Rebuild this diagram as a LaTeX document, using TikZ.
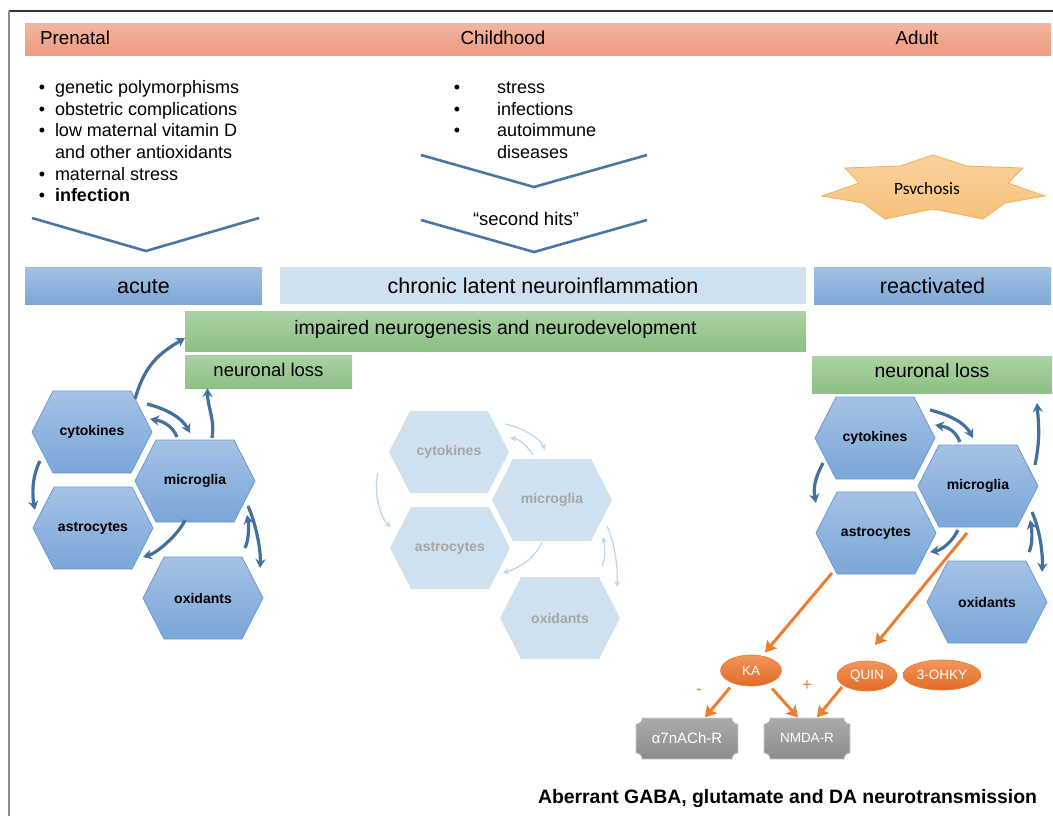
\documentclass[tikz,border=0pt]{standalone}
\usepackage{fontspec}
\setmainfont{Liberation Sans}
\newfontfamily\carlito{Carlito}
\usetikzlibrary{arrows.meta,shapes.geometric,calc}
\definecolor{salT}{HTML}{F2B49E}
\definecolor{salB}{HTML}{EE9A80}
\definecolor{phT}{HTML}{A3C2E4}
\definecolor{phB}{HTML}{7DA7D6}
\definecolor{pale}{HTML}{CFE1EF}
\definecolor{grT}{HTML}{ABD2A3}
\definecolor{grB}{HTML}{8CC084}
\definecolor{hexT}{HTML}{A5C2E5}
\definecolor{hexB}{HTML}{7AA6D8}
\definecolor{hexD}{HTML}{6B9BD2}
\definecolor{arrblue}{HTML}{41719C}
\definecolor{chev}{HTML}{4A76A6}
\definecolor{paletext}{HTML}{A6A6A6}
\definecolor{palearr}{HTML}{BDD7EE}
\definecolor{orng}{HTML}{ED7D31}
\definecolor{ornT}{HTML}{F2955A}
\definecolor{ornB}{HTML}{E26B27}
\definecolor{recT}{HTML}{ABABAB}
\definecolor{recB}{HTML}{8C8C8C}
\definecolor{starT}{HTML}{F9D29C}
\definecolor{starB}{HTML}{F6C27C}
\definecolor{starD}{HTML}{F3B050}
\newcommand{\myfs}[1]{\fontsize{#1}{#1}\selectfont}
\newcommand{\hexa}[6]{%
  \path[#5] ({#2-60},{#3}) -- ({#2-39},{#3-41}) -- ({#2+39},{#3-41}) -- ({#2+60},{#3}) -- ({#2+39},{#3+41}) -- ({#2-39},{#3+41}) -- cycle;
  \node[#6] (#1) at (#2,#3) {#4};}
\newcommand{\plaque}[5]{%
  \pgfmathsetmacro{\pqxa}{#2-#4}\pgfmathsetmacro{\pqxb}{#2+#4}%
  \pgfmathsetmacro{\pqya}{#3-20.5}\pgfmathsetmacro{\pqyb}{#3+20.5}%
  \path[recep] ({\pqxa+6},{\pqya}) -- ({\pqxb-6},{\pqya})
    .. controls ({\pqxb-6},{\pqya+3.3}) and ({\pqxb-3.3},{\pqya+6}) .. ({\pqxb},{\pqya+6})
    -- ({\pqxb},{\pqyb-6})
    .. controls ({\pqxb-3.3},{\pqyb-6}) and ({\pqxb-6},{\pqyb-3.3}) .. ({\pqxb-6},{\pqyb})
    -- ({\pqxa+6},{\pqyb})
    .. controls ({\pqxa+6},{\pqyb-3.3}) and ({\pqxa+3.3},{\pqyb-6}) .. ({\pqxa},{\pqyb-6})
    -- ({\pqxa},{\pqya+6})
    .. controls ({\pqxa+3.3},{\pqya+6}) and ({\pqxa+6},{\pqya+3.3}) .. ({\pqxa+6},{\pqya}) -- cycle;
  \node[rectxt, font=\myfs{#5}] (#1) at (#2,#3) {\vphantom{Ag}};}
\begin{document}
\begin{tikzpicture}[x=1pt,y=-1pt,
  every node/.style={inner sep=0pt, outer sep=0pt},
  bar/.style={draw=none, inner sep=0pt, outer sep=0pt},
  btxt/.style={anchor=base west, font=\myfs{18}},
  bul/.style={anchor=base, font=\myfs{18}},
  chevline/.style={draw=chev, line width=2.6pt},
  hexblue/.style={top color=hexT, bottom color=hexB, draw=hexD, line width=0.8pt},
  hexpale/.style={fill=pale},
  hextxt/.style={font=\bfseries\myfs{14}, text=black},
  paletxt/.style={font=\bfseries\myfs{14}, text=paletext},
  barr/.style={draw=arrblue, line width=3.2pt, -{Stealth[length=9pt,width=10pt]}},
  larr/.style={draw=palearr, line width=1.3pt, -{Stealth[length=6pt,width=6pt]}},
  oarr/.style={draw=orng, line width=3pt, -{Stealth[length=11pt,width=13pt,inset=2pt]}},
  ell/.style={ellipse, top color=ornT, bottom color=ornB, draw=orng, line width=0.6pt, text=white, font=\myfs{13.5}},
  recep/.style={top color=recT, bottom color=recB, draw=recT!60!white, line width=0.6pt},
  rectxt/.style={text=white}
]
\useasboundingbox (0,0) rectangle (1053,816);
% frame
\draw[draw=black!80, line width=1.5pt] (9,11) -- (1053,11);
\draw[draw=black!45, line width=2pt] (9,11) -- (9,816);
% top bar
\node[bar, minimum width=1026, minimum height=32, top color=salT, bottom color=salB] (topbar) at (538,40) {};
\node[anchor=base west, font=\myfs{18.8}] (prenatal) at (40,45) {Prenatal};
\node[anchor=base, font=\myfs{18.8}] (childhood) at (503,45) {Childhood};
\node[anchor=base, font=\myfs{18.8}] (adult) at (917,45) {Adult};
% left bullets
\node[bul] (lb1) at (42,93.5) {•};
\node[btxt] (lt1) at (55,93.5) {genetic polymorphisms};
\node[bul] (lb2) at (42,115.2) {•};
\node[btxt] (lt2) at (55,115.2) {obstetric complications};
\node[bul] (lb3) at (42,136.9) {•};
\node[btxt] (lt3) at (55,136.9) {low maternal vitamin D};
\node[btxt] (lt4) at (55,158.5) {and other antioxidants};
\node[bul] (lb5) at (42,180.2) {•};
\node[btxt] (lt5) at (55,180.2) {maternal stress};
\node[bul] (lb6) at (42,201.9) {•};
\node[btxt, font=\bfseries\myfs{18}] (lt6) at (55,201.9) {infection};
% middle bullets
\node[bul] (mb1) at (457,93.5) {•};
\node[btxt] (mt1) at (497,93.5) {stress};
\node[bul] (mb2) at (457,115.2) {•};
\node[btxt] (mt2) at (497,115.2) {infections};
\node[bul] (mb3) at (457,136.9) {•};
\node[btxt] (mt3) at (497,136.9) {autoimmune};
\node[btxt] (mt4) at (497,158.5) {diseases};
% chevrons
\draw[chevline] (32,218) -- (146,251) -- (259,218);
\draw[chevline] (421,155) -- (534,187) -- (647,155);
\draw[chevline] (421,220) -- (534,252) -- (647,220);
\node[anchor=base, font=\myfs{18.5}] (second) at (526,225) {“second hits”};
% psychosis star
\path[top color=starT, bottom color=starB, draw=starD, line width=0.8pt]
  (933,155) -- (967,166) -- (1023,168) -- (1008,183) -- (1045,196) -- (1005,203) -- (983,219) -- (933,209) -- (885,219) -- (863,203) -- (822,196) -- (859,183) -- (845,168) -- (900,166) -- cycle;
\node[font=\carlito\myfs{17.3}] (psy) at (927,189) {Psvchosis};
% phase bars
\node[bar, minimum width=237, minimum height=37, top color=phT, bottom color=phB] (acute) at (143.5,285.5) {};
\node[bar, minimum width=526, minimum height=37, fill=pale] (chronic) at (543,285.5) {};
\node[bar, minimum width=237, minimum height=37, top color=phT, bottom color=phB] (react) at (932.5,285.5) {};
\node[anchor=base, font=\myfs{21.5}] (acuteT) at (143.5,293) {acute};
\node[anchor=base, font=\myfs{21.5}] (chronicT) at (543,293) {chronic latent neuroinflammation};
\node[anchor=base, font=\myfs{21.5}] (reactT) at (932.5,293) {reactivated};
% green bars
\node[bar, minimum width=621, minimum height=40, top color=grT, bottom color=grB] (impL) at (495.5,331) {};
\node[anchor=base, font=\myfs{19.5}] (impT) at (495.5,334) {impaired neurogenesis and neurodevelopment};
\node[bar, minimum width=167, minimum height=33, top color=grT, bottom color=grB] (nlL) at (268.5,371.5) {};
\node[anchor=base, font=\myfs{18.5}] (nlLT) at (268.5,376) {neuronal loss};
\node[bar, minimum width=240, minimum height=37, top color=grT, bottom color=grB] (nlR) at (932,374.5) {};
\node[anchor=base, font=\myfs{19.3}] (nlRT) at (932,377) {neuronal loss};
% left hexagons
\hexa{cytL}{92}{432}{cytokines}{hexblue}{hextxt}
\hexa{micL}{195}{481}{microglia}{hexblue}{hextxt}
\hexa{astL}{93}{528}{astrocytes}{hexblue}{hextxt}
\hexa{oxiL}{203}{598}{oxidants}{hexblue}{hextxt}
% middle hexagons
\hexa{cytM}{449}{452}{cytokines}{hexpale}{paletxt}
\hexa{micM}{552}{500}{microglia}{hexpale}{paletxt}
\hexa{astM}{450}{548}{astrocytes}{hexpale}{paletxt}
\hexa{oxiM}{560}{618}{oxidants}{hexpale}{paletxt}
% right hexagons
\hexa{cytR}{875}{438}{cytokines}{hexblue}{hextxt}
\hexa{micR}{978}{486}{microglia}{hexblue}{hextxt}
\hexa{astR}{876}{533}{astrocytes}{hexblue}{hextxt}
\hexa{oxiR}{987}{602}{oxidants}{hexblue}{hextxt}
% left arrows
\draw[barr] ($(cytL.center)+(43,-33)$) .. controls +(10,-35) and +(-25,15) .. ($(impL.west)+(0,7)$);
\draw[barr] ($(micL.center)+(17,-43)$) .. controls +(3,-20) and +(0,20) .. ($(nlL.south)+(-61,0)$);
\draw[barr] ($(cytL.center)+(55,-28)$) .. controls +(20,5) and +(-8,-15) .. ($(micL.center)+(-5,-48)$);
\draw[barr] ($(micL.center)+(-18,-44)$) .. controls +(-5,-12) and +(12,2) .. ($(cytL.center)+(58,-13)$);
\draw[barr] ($(cytL.center)+(-52,29)$) .. controls +(-8,15) and +(-3,-15) .. ($(astL.center)+(-58,-18)$);
\draw[barr] ($(micL.center)+(-10,39)$) .. controls +(-6,14) and +(14,-4) .. ($(astL.center)+(50,29)$);
\draw[barr] ($(micL.center)+(53,25)$) .. controls +(8,18) and +(1,-18) .. ($(oxiL.center)+(57,-30)$);
\draw[barr] ($(oxiL.center)+(42,-50)$) .. controls +(4,-8) and +(2,10) .. ($(micL.center)+(52,34)$);
% middle arrows
\draw[larr] ($(cytM.center)+(56,-28)$) .. controls +(18,4) and +(-5,-12) .. ($(micM.center)+(-7,-50)$);
\draw[larr] ($(micM.center)+(-19,-45)$) .. controls +(-5,-8) and +(10,1) .. ($(cytM.center)+(61,-14)$);
\draw[larr] ($(cytM.center)+(-71,21)$) .. controls +(-5,20) and +(-10,-8) .. ($(astM.center)+(-59,-21)$);
\draw[larr] ($(micM.center)+(-10,42)$) .. controls +(-8,18) and +(15,-5) .. ($(astM.center)+(53,25)$);
\draw[larr] ($(micM.center)+(55,26)$) .. controls +(8,18) and +(1,-20) .. ($(oxiM.center)+(57,-31)$);
\draw[larr] ($(oxiM.center)+(42,-52)$) .. controls +(4,-8) and +(2,10) .. ($(micM.center)+(51,37)$);
% right arrows
\draw[barr] ($(cytR.center)+(55,-28)$) .. controls +(20,5) and +(-8,-15) .. ($(micR.center)+(-5,-48)$);
\draw[barr] ($(micR.center)+(-18,-44)$) .. controls +(-5,-12) and +(12,2) .. ($(cytR.center)+(60,-13)$);
\draw[barr] ($(cytR.center)+(-52,25)$) .. controls +(-8,15) and +(-3,-15) .. ($(astR.center)+(-60,-30)$);
\draw[barr] ($(micR.center)+(-20,44)$) .. controls +(-6,12) and +(12,-2) .. ($(astR.center)+(54,19)$);
\draw[barr] ($(micR.center)+(54,26)$) .. controls +(8,18) and +(1,-18) .. ($(oxiR.center)+(55,-30)$);
\draw[barr] ($(oxiR.center)+(42,-50)$) .. controls +(4,-8) and +(2,10) .. ($(micR.center)+(52,34)$);
\draw[barr] ($(micR.center)+(57,-21)$) .. controls +(5,-25) and +(2,25) .. ($(nlR.south)+(105,10)$);
% metabolites
\node[ell, minimum width=61, minimum height=31] (KA) at (751,670.5) {KA};
\node[ell, minimum width=60, minimum height=30] (QUIN) at (867,676) {QUIN};
\node[ell, minimum width=78, minimum height=30] (OHKY) at (942,675) {3-OHKY};
% receptors
\plaque{a7s}{687}{738.5}{51}{15}
\node[rectxt, font=\myfs{15}] (a7) at (687,738.5) {α7nACh-R};
\plaque{nmdas}{807}{738.5}{43}{13.5}
\node[rectxt, font=\myfs{13.5}] (nmda) at (807,737.5) {NMDA-R};
% orange arrows
\draw[oarr] ($(astR.center)+(-44,40)$) -- ($(KA.center)+(14,-18)$);
\draw[oarr] ($(micR.center)+(-11,47)$) -- ($(QUIN.center)+(8,-31)$);
\draw[oarr] ($(KA.center)+(-21,17)$) -- ($(a7.center)+(18,-21)$);
\draw[oarr] ($(KA.center)+(21,18)$) -- ($(nmda.center)+(-9,-20)$);
\draw[oarr] ($(QUIN.center)+(-25,11)$) -- ($(nmda.center)+(10,-20)$);
\node[text=orng, font=\myfs{17}] (minus) at (699,692) {-};
\node[text=orng, font=\myfs{17}] (plus) at (807,686) {+};
% bottom text
\node[anchor=base west, font=\bfseries\myfs{19.4}] (bottom) at (538,803) {Aberrant GABA, glutamate and DA neurotransmission};
\end{tikzpicture}
\end{document}
